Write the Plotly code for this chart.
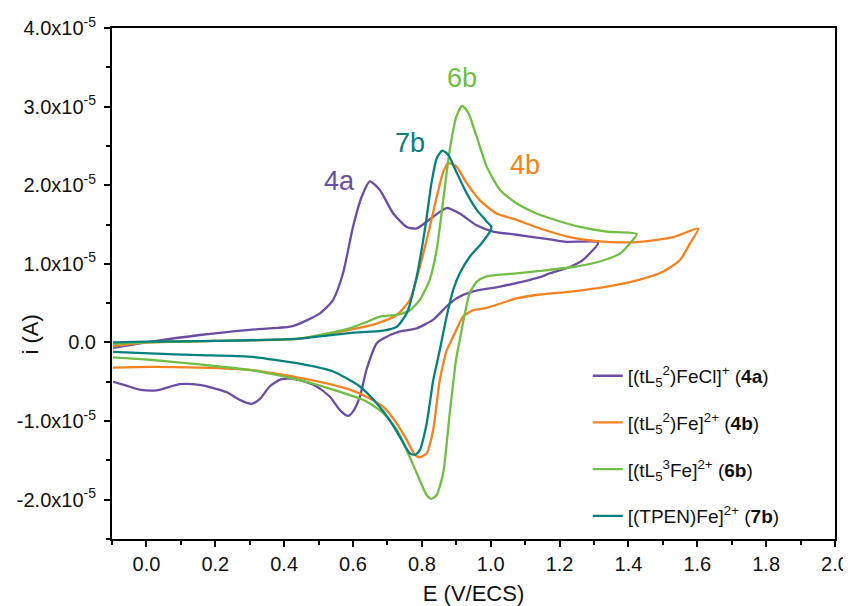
import numpy as np
import plotly.graph_objects as go

SCALE = 1e-5  # currents below are given in units of 1e-5 A

# [(tL5^2)FeCl]+ (4a)
E_4a = [-0.097, 0.0, 0.155, 0.30, 0.417, 0.445, 0.504, 0.542, 0.571, 0.60, 0.625, 0.649, 0.678, 0.717,
        0.756, 0.785, 0.833, 0.872, 0.91, 0.959, 1.007, 1.075, 1.172, 1.22, 1.312,
        1.268, 1.23, 1.172, 1.143, 1.027, 0.949, 0.90, 0.872, 0.833, 0.785, 0.736, 0.688, 0.669,
        0.639, 0.62, 0.60, 0.586, 0.562, 0.533, 0.494, 0.445, 0.42, 0.39, 0.358, 0.329, 0.305, 0.271,
        0.232, 0.155, 0.097, 0.029, -0.02, -0.058, -0.097]
I_4a = [-0.07, 0.0, 0.095, 0.16, 0.20, 0.24, 0.37, 0.54, 0.88, 1.47, 1.85, 2.05, 1.94, 1.64,
        1.47, 1.45, 1.60, 1.71, 1.64, 1.49, 1.41, 1.37, 1.31, 1.28, 1.27,
        1.05, 0.96, 0.88, 0.83, 0.71, 0.65, 0.56, 0.46, 0.29, 0.18, 0.14, 0.05, -0.01,
        -0.35, -0.69, -0.88, -0.935, -0.86, -0.69, -0.56, -0.48, -0.46, -0.47, -0.56, -0.72, -0.78, -0.73,
        -0.63, -0.54, -0.53, -0.61, -0.60, -0.55, -0.50]

# [(tL5^2)Fe]2+ (4b)
E_4b = [-0.097, 0.0, 0.20, 0.445, 0.59, 0.668, 0.727, 0.765, 0.794, 0.823, 0.843, 0.862, 0.876,
        0.90, 0.93, 0.968, 1.017, 1.075, 1.143, 1.24, 1.337, 1.433, 1.53, 1.603,
        1.579, 1.55, 1.50, 1.433, 1.337, 1.24, 1.143, 1.075, 0.988, 0.949, 0.92, 0.90, 0.881,
        0.872, 0.852, 0.833, 0.814, 0.794, 0.78, 0.756, 0.727, 0.688, 0.639, 0.591, 0.523,
        0.445, 0.30, 0.155, 0.01, -0.097]
I_4b = [-0.05, 0.0, 0.02, 0.05, 0.16, 0.24, 0.35, 0.54, 0.96, 1.47, 1.85, 2.17, 2.28,
        2.24, 2.03, 1.81, 1.64, 1.56, 1.45, 1.33, 1.28, 1.28, 1.34, 1.45,
        1.26, 1.05, 0.90, 0.80, 0.71, 0.65, 0.61, 0.56, 0.44, 0.41, 0.33, 0.16, -0.02,
        -0.10, -0.48, -1.11, -1.41, -1.46, -1.43, -1.24, -1.03, -0.82, -0.69, -0.60, -0.52,
        -0.45, -0.35, -0.32, -0.31, -0.32]

# [(tL5^3)Fe]2+ (6b)
E_6b = [-0.097, 0.0, 0.20, 0.445, 0.59, 0.639, 0.678, 0.727, 0.765, 0.794, 0.823, 0.843, 0.862,
        0.881, 0.90, 0.917, 0.935, 0.959, 0.988, 1.027, 1.075, 1.123, 1.172, 1.259, 1.337, 1.424,
        1.404, 1.375, 1.317, 1.24, 1.143, 1.075, 0.988, 0.959, 0.939, 0.925, 0.91, 0.90, 0.881,
        0.862, 0.843, 0.828, 0.814, 0.785, 0.756, 0.727, 0.688, 0.639, 0.542, 0.445, 0.30,
        0.155, 0.01, -0.097]
I_6b = [-0.02, 0.0, 0.02, 0.05, 0.18, 0.26, 0.33, 0.35, 0.41, 0.54, 0.80, 1.18, 1.81,
        2.45, 2.87, 3.01, 2.92, 2.62, 2.24, 1.94, 1.77, 1.66, 1.58, 1.47, 1.41, 1.38,
        1.26, 1.13, 1.03, 0.96, 0.91, 0.88, 0.84, 0.77, 0.63, 0.37, 0.03, -0.20, -0.90,
        -1.66, -1.94, -1.99, -1.94, -1.66, -1.37, -1.11, -0.90, -0.75, -0.60, -0.48, -0.35,
        -0.28, -0.22, -0.19]

# [(TPEN)Fe]2+ (7b)
E_7b = [-0.097, 0.0, 0.20, 0.445, 0.59, 0.688, 0.727, 0.756, 0.785, 0.81, 0.828, 0.843, 0.859,
        0.876, 0.90, 0.93, 0.959, 0.988, 1.002,
        0.998, 0.973, 0.939, 0.91, 0.891, 0.876, 0.862, 0.852, 0.833, 0.814, 0.794, 0.78,
        0.765, 0.736, 0.707, 0.668, 0.62, 0.542, 0.445, 0.30, 0.155, 0.01, -0.097]
I_7b = [0.0, 0.01, 0.02, 0.05, 0.12, 0.15, 0.20, 0.37, 0.84, 1.47, 2.03, 2.34, 2.44,
        2.39, 2.17, 1.90, 1.69, 1.54, 1.47,
        1.41, 1.26, 1.09, 0.88, 0.67, 0.41, 0.12, -0.10, -0.48, -1.03, -1.37, -1.43,
        -1.41, -1.20, -0.99, -0.77, -0.56, -0.37, -0.27, -0.18, -0.16, -0.14, -0.12]

series = [
    ("[(tL<sub>5</sub><sup>2</sup>)FeCl]<sup>+</sup> (<b>4a</b>)", E_4a, I_4a, "#6B4DA3"),
    ("[(tL<sub>5</sub><sup>2</sup>)Fe]<sup>2+</sup> (<b>4b</b>)", E_4b, I_4b, "#F58220"),
    ("[(tL<sub>5</sub><sup>3</sup>Fe]<sup>2+</sup> (<b>6b</b>)", E_6b, I_6b, "#70BF44"),
    ("[(TPEN)Fe]<sup>2+</sup> (<b>7b</b>)", E_7b, I_7b, "#07807E"),
]

peak_labels = ["4a", "7b", "6b", "4b"]
peak_E = [0.562, 0.765, 0.916, 1.099]
peak_I = [2.05, 2.54, 3.37, 2.26]
peak_colors = ["#6B4DA3", "#07807E", "#70BF44", "#F58220"]

y_tickvals = [-2.0, -1.0, 0.0, 1.0, 2.0, 3.0, 4.0]
y_ticktext = ["-2.0x10<sup>-5</sup>", "-1.0x10<sup>-5</sup>", "0.0", "1.0x10<sup>-5</sup>",
              "2.0x10<sup>-5</sup>", "3.0x10<sup>-5</sup>", "4.0x10<sup>-5</sup>"]
x_tickvals = [0.0, 0.2, 0.4, 0.6, 0.8, 1.0, 1.2, 1.4, 1.6, 1.8, 2.0]

FONT = "Arial, Liberation Sans, sans-serif"

fig = go.Figure()
for i, (name, E, I, col) in enumerate(series):
    fig.add_trace(go.Scatter(
        x=E, y=np.array(I) * SCALE, mode="lines", name=name,
        line=dict(color=col, width=2.3, shape="spline", smoothing=0.6),
        legendgroup=f"g{i}",
    ))

for lab, ex, iy, col in zip(peak_labels, peak_E, peak_I, peak_colors):
    fig.add_annotation(x=ex, y=iy * SCALE, text=lab, showarrow=False,
                       font=dict(size=27, color=col, family=FONT))

# y-axis title as a rotated label placed left of the tick labels
fig.add_annotation(xref="paper", yref="paper", x=-0.112, y=0.40, text="i (A)", textangle=-90,
                   showarrow=False, xanchor="center", yanchor="middle",
                   font=dict(size=22, color="#111", family=FONT))

axis_common = dict(showline=True, linecolor="black", linewidth=2, mirror=True,
                   ticks="outside", ticklen=6, tickwidth=1.5, tickcolor="black",
                   showgrid=False, zeroline=False, automargin=False,
                   tickfont=dict(size=20, color="#111", family=FONT))

fig.update_xaxes(range=[-0.1, 2.0], tickvals=x_tickvals, ticktext=[f"{v:.1f}" for v in x_tickvals],
                 minor=dict(ticks="outside", ticklen=4, tickwidth=1.5, tickcolor="black", dtick=0.1, tick0=-0.1),
                 title=dict(text="E (V/ECS)", font=dict(size=22, color="#111", family=FONT), standoff=12),
                 **axis_common)
fig.update_yaxes(range=[-2.5 * SCALE, 4.0 * SCALE], tickvals=[v * SCALE for v in y_tickvals], ticktext=y_ticktext,
                 minor=dict(ticks="outside", ticklen=4, tickwidth=1.5, tickcolor="black", dtick=0.5 * SCALE, tick0=0),
                 ticklabelstandoff=4,
                 **axis_common)

fig.update_layout(
    width=843, height=598,
    margin=dict(l=104, r=16, t=20, b=67),
    plot_bgcolor="white", paper_bgcolor="white",
    font=dict(family=FONT, size=20, color="#111"),
    legend=dict(x=0.658, y=0.008, xanchor="left", yanchor="bottom",
                bgcolor="rgba(0,0,0,0)", borderwidth=0, tracegroupgap=19,
                font=dict(size=19, family=FONT, color="#111")),
)

fig.write_html("out.html")
